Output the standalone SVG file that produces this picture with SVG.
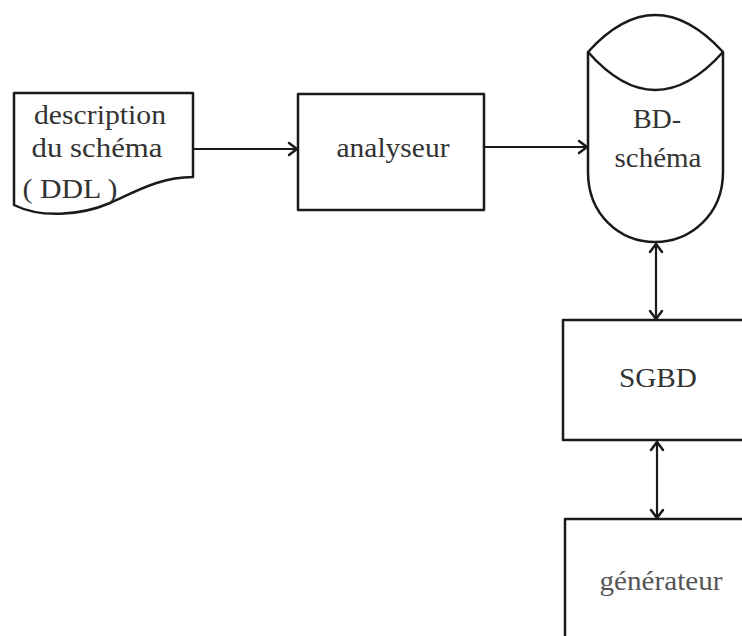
<svg xmlns="http://www.w3.org/2000/svg" width="742" height="636" viewBox="0 0 742 636">
<style>
.shape{fill:none;stroke:#1a1a1a;stroke-width:2.5;stroke-linejoin:round}
.lbl{font-family:"Liberation Serif","Times New Roman",serif;font-size:28px;fill:#333;text-anchor:middle}
.conn{fill:none;stroke:#1a1a1a;stroke-width:2.2}
</style>
<defs>
<marker id="arr" viewBox="-10 -8 12 16" refX="0" refY="0" markerWidth="12" markerHeight="16" markerUnits="userSpaceOnUse" orient="auto-start-reverse">
<path d="M-8,-6 L0,0 L-8,6" fill="none" stroke="#1a1a1a" stroke-width="2.5" stroke-linecap="round" stroke-linejoin="round"/>
</marker>
</defs>
<rect width="742" height="636" fill="#fff"/>
<g id="doc">
<path class="shape" d="M14,93 H193 V177 C160,177 135,192 110,203 C80,216 40,218 14,205 Z"/>
<text class="lbl" x="100" y="123.5" textLength="132" lengthAdjust="spacingAndGlyphs">description</text>
<text class="lbl" x="97" y="157" textLength="131" lengthAdjust="spacingAndGlyphs">du schéma</text>
<text class="lbl" x="70" y="198" font-size="25" textLength="95" lengthAdjust="spacingAndGlyphs">( DDL )</text>
</g>
<g id="analyseur">
<rect class="shape" x="298" y="94" width="186" height="116"/>
<text class="lbl" x="393" y="157" textLength="113" lengthAdjust="spacingAndGlyphs">analyseur</text>
</g>
<g id="bdschema">
<path class="shape" d="M588,52 Q655,-22 723,52 Q655,128 588,52 Z"/>
<path class="shape" d="M588,52 V172 C588,215 620,242 655,242 C690,242 723,215 723,172 V52"/>
<text class="lbl" x="657" y="128">BD-</text>
<text class="lbl" x="658" y="167" textLength="87" lengthAdjust="spacingAndGlyphs">schéma</text>
</g>
<g id="sgbd">
<rect class="shape" x="563" y="320" width="200" height="120"/>
<text class="lbl" x="658" y="387" font-size="29" textLength="78" lengthAdjust="spacingAndGlyphs">SGBD</text>
</g>
<g id="generateur">
<rect class="shape" x="565" y="519" width="200" height="150"/>
<text class="lbl" x="661" y="590" style="fill:#555" textLength="123" lengthAdjust="spacingAndGlyphs">générateur</text>
</g>
<g id="connectors">
<path class="conn" d="M193,149 H297" marker-end="url(#arr)"/>
<path class="conn" d="M484,147 H587" marker-end="url(#arr)"/>
<path class="conn" d="M656,244 V319" marker-start="url(#arr)" marker-end="url(#arr)"/>
<path class="conn" d="M657,442 V518" marker-start="url(#arr)" marker-end="url(#arr)"/>
</g>
</svg>
